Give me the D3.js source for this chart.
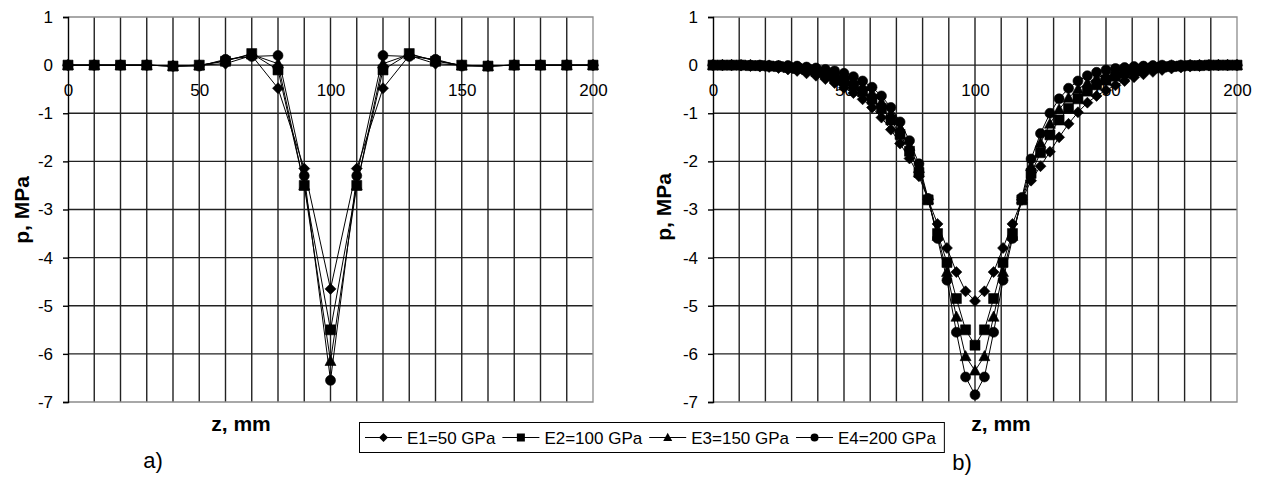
<!DOCTYPE html>
<html>
<head>
<meta charset="utf-8">
<script src="https://cdn.jsdelivr.net/npm/d3@7"></script>
<style>
  body { margin: 0; background: #fff; }
  svg { display: block; font-family: "Liberation Sans", Arial, sans-serif; }
</style>
</head>
<body>
<svg id="chart" width="1264" height="477"></svg>
<script>
// ------------------------------
// datos
// ------------------------------

const seriesNames = ["E1=50 GPa", "E2=100 GPa", "E3=150 GPa", "E4=200 GPa"];
const markerTypes = ["diamond", "square", "triangle", "circle"];

const yTicks = [1, 0, -1, -2, -3, -4, -5, -6, -7];
const xTickLabels = [0, 50, 100, 150, 200];
const xGrid = [0, 10, 20, 30, 40, 50, 60, 70, 80, 90, 100, 110, 120, 130, 140, 150, 160, 170, 180, 190, 200];

// a) malla gruesa, paso 10 mm
const zA = [0, 10, 20, 30, 40, 50, 60, 70, 80, 90, 100, 110, 120, 130, 140, 150, 160, 170, 180, 190, 200];
const e1A = [0, 0, 0, 0, -0.02, 0, 0.03, 0.2, -0.48, -2.15, -4.65, -2.15, -0.48, 0.2, 0.03, 0, -0.02, 0, 0, 0, 0];
const e2A = [0, 0, 0, 0, -0.02, 0, 0.08, 0.24, -0.1, -2.5, -5.5, -2.5, -0.1, 0.24, 0.08, 0, -0.02, 0, 0, 0, 0];
const e3A = [0, 0, 0, 0, -0.02, -0.01, 0.1, 0.22, 0.03, -2.5, -6.15, -2.5, 0.03, 0.22, 0.1, -0.01, -0.02, 0, 0, 0, 0];
const e4A = [0, 0, 0, 0, -0.02, -0.02, 0.12, 0.18, 0.2, -2.3, -6.55, -2.3, 0.2, 0.18, 0.12, -0.02, -0.02, 0, 0, 0, 0];

// b) malla fina
const zB = [0, 3.6, 7.1, 10.7, 14.3, 17.9, 21.4, 25, 28.6, 32.1, 35.7, 39.3, 42.9, 46.4, 50,
  53.6, 57.1, 60.7, 64.3, 67.9, 71.4, 75, 78.6, 82.1, 85.7, 89.3, 92.9, 96.4, 100,
  103.6, 107.1, 110.7, 114.3, 117.9, 121.4, 125, 128.6, 132.1, 135.7, 139.3, 142.9, 146.4, 150,
  153.6, 157.1, 160.7, 164.3, 167.9, 171.4, 175, 178.6, 182.1, 185.7, 189.3, 192.9, 196.4, 200];
const e1B = [0, 0, 0, -0.01, -0.02, -0.03, -0.04, -0.06, -0.09, -0.12, -0.17, -0.22, -0.29, -0.37, -0.47,
  -0.58, -0.71, -0.88, -1.09, -1.34, -1.63, -1.94, -2.31, -2.79, -3.3, -3.8, -4.3, -4.7, -4.9,
  -4.7, -4.3, -3.8, -3.3, -2.8, -2.4, -2.1, -1.8, -1.5, -1.22, -0.98, -0.78, -0.64, -0.52,
  -0.42, -0.33, -0.25, -0.19, -0.14, -0.1, -0.07, -0.05, -0.03, -0.02, -0.01, 0, 0, 0];
const e2B = [0, 0, 0, 0, -0.01, -0.01, -0.02, -0.03, -0.05, -0.07, -0.09, -0.13, -0.18, -0.25, -0.33,
  -0.43, -0.55, -0.71, -0.9, -1.14, -1.44, -1.79, -2.23, -2.8, -3.5, -4.1, -4.85, -5.5, -5.82,
  -5.5, -4.85, -4.1, -3.5, -2.8, -2.25, -1.82, -1.45, -1.14, -0.9, -0.7, -0.54, -0.41, -0.31,
  -0.23, -0.17, -0.12, -0.08, -0.06, -0.04, -0.03, -0.02, -0.01, -0.01, 0, 0, 0, 0];
const e3B = [0, 0, 0, 0, 0, -0.01, -0.01, -0.02, -0.03, -0.04, -0.06, -0.09, -0.12, -0.17, -0.24,
  -0.33, -0.44, -0.58, -0.77, -1.01, -1.31, -1.68, -2.14, -2.79, -3.55, -4.3, -5.23, -6.05, -6.35,
  -6.05, -5.23, -4.3, -3.55, -2.78, -2.1, -1.62, -1.22, -0.92, -0.68, -0.5, -0.37, -0.27, -0.19,
  -0.13, -0.09, -0.06, -0.04, -0.03, -0.02, -0.01, -0.01, 0, 0, 0, 0, 0, 0];
const e4B = [0, 0, 0, 0, 0, 0, -0.01, -0.01, -0.01, -0.02, -0.04, -0.06, -0.09, -0.12, -0.17,
  -0.24, -0.33, -0.46, -0.64, -0.88, -1.18, -1.57, -2.05, -2.77, -3.6, -4.47, -5.55, -6.48, -6.85,
  -6.48, -5.55, -4.47, -3.6, -2.75, -1.95, -1.42, -1.0, -0.7, -0.48, -0.33, -0.22, -0.15, -0.1,
  -0.07, -0.05, -0.03, -0.02, -0.01, 0, 0, 0, 0, 0, 0, 0, 0, 0];

// ------------------------------
// marcadores estilo Excel
// ------------------------------

function markerPath(type, s) {
  if (type === "diamond") return `M0,${-s}L${s},0L0,${s}L${-s},0Z`;
  if (type === "square") return `M${-s},${-s}H${s}V${s}H${-s}Z`;
  if (type === "triangle") return `M0,${-s * 1.05}L${s},${s * 0.8}L${-s},${s * 0.8}Z`;
  return d3.arc()({ innerRadius: 0, outerRadius: s, startAngle: 0, endAngle: 2 * Math.PI });
}
const markerSize = { diamond: 5.5, square: 5, triangle: 5.5, circle: 5 };

const svg = d3.select("#chart");
const yTop = 17, yBottom = 402;
const y = d3.scaleLinear().domain([-7, 1]).range([yBottom, yTop]);
const gridColor = "#222";

function drawPanel(x0, x1, z, series) {
  const x = d3.scaleLinear().domain([0, 200]).range([x0, x1]);
  const g = svg.append("g");

  // rejilla vertical cada 10 mm
  g.selectAll(".vg").data(xGrid.filter(v => v > 0 && v < 200)).join("line")
    .attr("x1", d => x(d)).attr("x2", d => x(d))
    .attr("y1", yTop).attr("y2", yBottom)
    .attr("stroke", gridColor).attr("stroke-width", 1.4);

  // rejilla horizontal
  g.selectAll(".hg").data(yTicks.filter(v => v < 1 && v > -7)).join("line")
    .attr("x1", x0).attr("x2", x1)
    .attr("y1", d => y(d)).attr("y2", d => y(d))
    .attr("stroke", gridColor).attr("stroke-width", 1.4);

  // borde del área de trazado
  g.append("path")
    .attr("d", `M${x0},${yTop}H${x1}V${yBottom}H${x0}`)
    .attr("fill", "none").attr("stroke", "#8c8c8c").attr("stroke-width", 1.3);

  // eje Y
  const yAxis = g.append("g")
    .attr("transform", `translate(${x0},0)`)
    .call(d3.axisLeft(y).tickValues(yTicks).tickFormat(d => String(d)).tickSize(5).tickPadding(10));
  yAxis.select(".domain").attr("stroke", "#000").attr("stroke-width", 1.4);
  yAxis.selectAll(".tick line").attr("stroke", "#000").attr("stroke-width", 1.4);
  yAxis.selectAll("text").attr("font-size", 17).attr("fill", "#000")
    .attr("font-family", "Liberation Sans, Arial, sans-serif");

  // etiquetas X sobre la línea de cero
  const xAxis = g.append("g")
    .attr("transform", `translate(0,${y(0)})`)
    .call(d3.axisBottom(x).tickValues(xTickLabels).tickSize(0).tickPadding(19));
  xAxis.select(".domain").remove();
  xAxis.selectAll("text").attr("font-size", 17).attr("fill", "#000")
    .attr("font-family", "Liberation Sans, Arial, sans-serif");

  // líneas de las series
  const line = d3.line().x((d, i) => x(z[i])).y(d => y(d));
  series.forEach(vals => {
    g.append("path").datum(vals)
      .attr("d", line)
      .attr("fill", "none").attr("stroke", "#000").attr("stroke-width", 1);
  });

  // marcadores
  series.forEach((vals, s) => {
    const t = markerTypes[s];
    g.append("g").selectAll("path").data(vals).join("path")
      .attr("transform", (d, i) => `translate(${x(z[i])},${y(d)})`)
      .attr("d", markerPath(t, markerSize[t]))
      .attr("fill", "#000").attr("stroke", "#000").attr("stroke-width", 0.6);
  });
}

drawPanel(68, 593, zA, [e1A, e2A, e3A, e4A]);
drawPanel(713, 1237, zB, [e1B, e2B, e3B, e4B]);

// ------------------------------
// títulos de ejes y rótulos
// ------------------------------

function yTitle(cx, cy) {
  svg.append("text")
    .attr("transform", `translate(${cx},${cy}) rotate(-90)`)
    .attr("text-anchor", "middle").attr("dy", "0.35em")
    .attr("font-size", 21).attr("font-weight", "bold")
    .text("p, MPa");
}
yTitle(22, 210);
yTitle(664, 207);

svg.append("text").attr("x", 241).attr("y", 431).attr("text-anchor", "middle")
  .attr("font-size", 21).attr("font-weight", "bold").text("z, mm");
svg.append("text").attr("x", 1001).attr("y", 431).attr("text-anchor", "middle")
  .attr("font-size", 21).attr("font-weight", "bold").text("z, mm");

svg.append("text").attr("x", 153).attr("y", 468).attr("text-anchor", "middle")
  .attr("font-size", 22).text("a)");
svg.append("text").attr("x", 962).attr("y", 470).attr("text-anchor", "middle")
  .attr("font-size", 22).text("b)");

// ------------------------------
// leyenda
// ------------------------------

const legend = svg.append("g");
const legendBox = legend.append("rect")
  .attr("x", 359.5).attr("y", 422.5).attr("height", 30)
  .attr("fill", "#fff").attr("stroke", "#000").attr("stroke-width", 1);

let lx = 365;
const legendMarker = { diamond: 4.5, square: 4, triangle: 4.5, circle: 4 };
seriesNames.forEach((name, s) => {
  const t = markerTypes[s];
  legend.append("line")
    .attr("x1", lx).attr("x2", lx + 37).attr("y1", 437.5).attr("y2", 437.5)
    .attr("stroke", "#000").attr("stroke-width", 1);
  legend.append("path")
    .attr("transform", `translate(${lx + 18.5},437.5)`)
    .attr("d", markerPath(t, legendMarker[t]))
    .attr("fill", "#000");
  const txt = legend.append("text")
    .attr("x", lx + 42).attr("y", 443.5)
    .attr("font-size", 17).text(name);
  lx = lx + 42 + txt.node().getComputedTextLength() + 7;
});
legendBox.attr("width", lx - 359 + 1);
</script>
</body>
</html>
